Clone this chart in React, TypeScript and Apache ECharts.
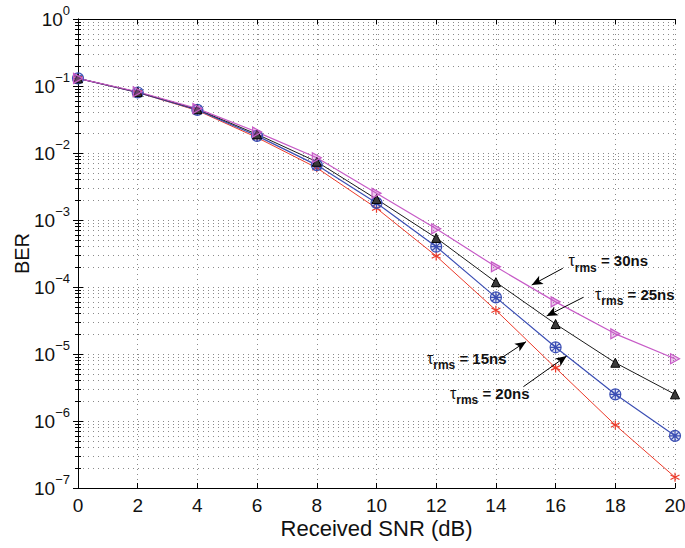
import React, { useEffect, useRef } from 'react';
import * as echarts from 'echarts';

const snr = [0, 2, 4, 6, 8, 10, 12, 14, 16, 18, 20];
const ber15 = [0.13, 0.08, 0.043, 0.017, 0.006, 0.0015, 2.9e-4, 4.5e-5, 6.2e-6, 8.7e-7, 1.45e-7];
const ber20 = [0.13, 0.08, 0.044, 0.018, 0.0066, 0.0018, 4.0e-4, 7.0e-5, 1.26e-5, 2.5e-6, 6.0e-7];
const ber25 = [0.13, 0.081, 0.045, 0.019, 0.0074, 0.00205, 5.4e-4, 1.18e-4, 2.8e-5, 7.4e-6, 2.5e-6];
const ber30 = [0.13, 0.082, 0.046, 0.0205, 0.0085, 0.0025, 7.4e-4, 2.0e-4, 6.0e-5, 2.0e-5, 8.5e-6];

const labelNames = ['30ns', '25ns', '15ns', '20ns'];
const labelAnchors: [number, number][] = [[16.43, 2.47e-4], [17.32, 7.8e-5], [11.69, 8.63e-6], [12.46, 2.59e-6]];
const arrowFrom: [number, number][] = [[16.24, 1.9e-4], [16.93, 7.02e-5], [14.08, 8.13e-6], [14.92, 3.25e-6]];
const arrowTo: [number, number][] = [[15.2, 1.07e-4], [15.7, 3.69e-5], [15.01, 1.53e-5], [16.37, 9.33e-6]];

const FONT = 'Liberation Sans, Arial, Helvetica, sans-serif';
const dotted = { color: '#8a8a8a', width: 1, type: [1, 4] as number[] };

const toPairs = (ys: number[]) => snr.map((x, i) => [x, ys[i]]);

export default function App() {
  const ref = useRef<HTMLDivElement>(null);
  useEffect(() => {
    const chart = echarts.init(ref.current!, null, { renderer: 'svg' });
    const axisLine = { show: true, lineStyle: { color: '#000', width: 1 } };
    const option: any = {
      animation: false,
      backgroundColor: '#fff',
      textStyle: { fontFamily: FONT },
      grid: { left: 78, right: 10, top: 19, bottom: 60, containLabel: false, outerBoundsMode: 'none' },
      xAxis: [
        {
          type: 'value', min: 0, max: 20, interval: 2, position: 'bottom',
          axisLine, axisTick: { show: true, inside: true, length: 5, lineStyle: { color: '#000' } },
          axisLabel: { fontSize: 19, color: '#111', margin: 8, fontFamily: FONT },
          splitLine: { show: true, lineStyle: dotted },
          name: 'Received SNR (dB)', nameLocation: 'middle', nameGap: 29, nameMoveOverlap: false,
          nameTextStyle: { fontSize: 22, color: '#111', fontFamily: FONT },
        },
        {
          type: 'value', min: 0, max: 20, interval: 2, position: 'top',
          axisLine, axisTick: { show: true, inside: true, length: 5, lineStyle: { color: '#000' } },
          axisLabel: { show: false }, splitLine: { show: false },
        },
      ],
      yAxis: [
        {
          type: 'log', logBase: 10, min: 1e-7, max: 1, position: 'left',
          axisLine,
          axisTick: { show: true, inside: true, length: 5, lineStyle: { color: '#000' } },
          minorTick: { show: true, splitNumber: 9, length: 3, lineStyle: { color: '#000' } },
          splitLine: { show: true, lineStyle: dotted },
          minorSplitLine: { show: true, lineStyle: dotted },
          axisLabel: {
            margin: 8,
            formatter: (v: number) => {
              const e = Math.round(Math.log10(v));
              return `{b|10}{s|${e === 0 ? '0' : '\u2212' + -e}}`;
            },
            rich: {
              b: { fontSize: 19, color: '#111', fontFamily: FONT },
              s: { fontSize: 13, color: '#111', fontFamily: FONT, padding: [0, 0, 18, 0] },
            },
          },
          name: 'BER', nameLocation: 'middle', nameGap: 46, nameRotate: 90, nameMoveOverlap: false,
          nameTextStyle: { fontSize: 20, color: '#111', fontFamily: FONT },
        },
        {
          type: 'log', logBase: 10, min: 1e-7, max: 1, position: 'right',
          axisLine,
          axisTick: { show: true, inside: true, length: 5, lineStyle: { color: '#000' } },
          minorTick: { show: true, splitNumber: 9, length: 3, lineStyle: { color: '#000' } },
          axisLabel: { show: false }, splitLine: { show: false },
        },
      ],
      series: [
        {
          type: 'line', name: '15ns', data: toPairs(ber15),
          symbol: 'path://M0,-5L0,5M-4.33,-2.5L4.33,2.5M-4.33,2.5L4.33,-2.5', symbolSize: 9,
          lineStyle: { color: '#ec3a2a', width: 1 },
          itemStyle: { color: '#ec3a2a', borderColor: '#ec3a2a', borderWidth: 1.2 },
        },
        {
          type: 'line', name: '20ns', data: toPairs(ber20),
          symbol: 'path://M-5,0A5,5 0 1,0 5,0A5,5 0 1,0 -5,0ZM-5,0L5,0M0,-5L0,5M-3.5,-3.5L3.5,3.5M-3.5,3.5L3.5,-3.5', symbolSize: 11,
          lineStyle: { color: '#3c4fb4', width: 1.2 },
          itemStyle: { color: 'rgba(60,79,180,0.15)', borderColor: '#3c4fb4', borderWidth: 1.2 },
        },
        {
          type: 'line', name: '25ns', data: toPairs(ber25),
          symbol: 'triangle', symbolSize: 9,
          lineStyle: { color: '#1a1a1a', width: 1 },
          itemStyle: { color: '#3a3a3a', borderColor: '#000', borderWidth: 1 },
        },
        {
          type: 'line', name: '30ns', data: toPairs(ber30),
          symbol: 'path://M-4,-5L5,0L-4,5Z', symbolSize: [9, 10],
          lineStyle: { color: '#c75bc7', width: 1.2 },
          itemStyle: { color: 'rgba(199,91,199,0.35)', borderColor: '#c75bc7', borderWidth: 1.2 },
          markLine: {
            silent: true, symbol: ['none', 'arrow'], symbolSize: [7, 11],
            label: { show: false },
            lineStyle: { color: '#000', width: 1, type: 'solid' },
            data: arrowFrom.map((f, i) => [{ coord: f }, { coord: arrowTo[i] }]),
          },
        },
      ],
    };
    chart.setOption(option);
    const graphic: any[] = [];
    labelAnchors.forEach((a, i) => {
      const p = chart.convertToPixel({ xAxisIndex: 0, yAxisIndex: 0 }, a) as number[];
      graphic.push({
        type: 'text', x: p[0], y: p[1],
        style: {
          text: `{t|\u03c4}{r|rms}{e| = ${labelNames[i]}}`,
          verticalAlign: 'middle', align: 'left', fill: '#111',
          rich: {
            t: { fontSize: 16, fontFamily: FONT, fill: '#111' },
            r: { fontSize: 12, fontWeight: 'bold', fontFamily: FONT, fill: '#111', padding: [14, 0, 0, 0] },
            e: { fontSize: 15, fontWeight: 'bold', fontFamily: FONT, fill: '#111' },
          },
        },
      });
    });
    chart.setOption({ graphic });
    return () => chart.dispose();
  }, []);
  return <div ref={ref} style={{ position: 'fixed', left: 0, top: 0, width: 685, height: 548 }} />;
}
